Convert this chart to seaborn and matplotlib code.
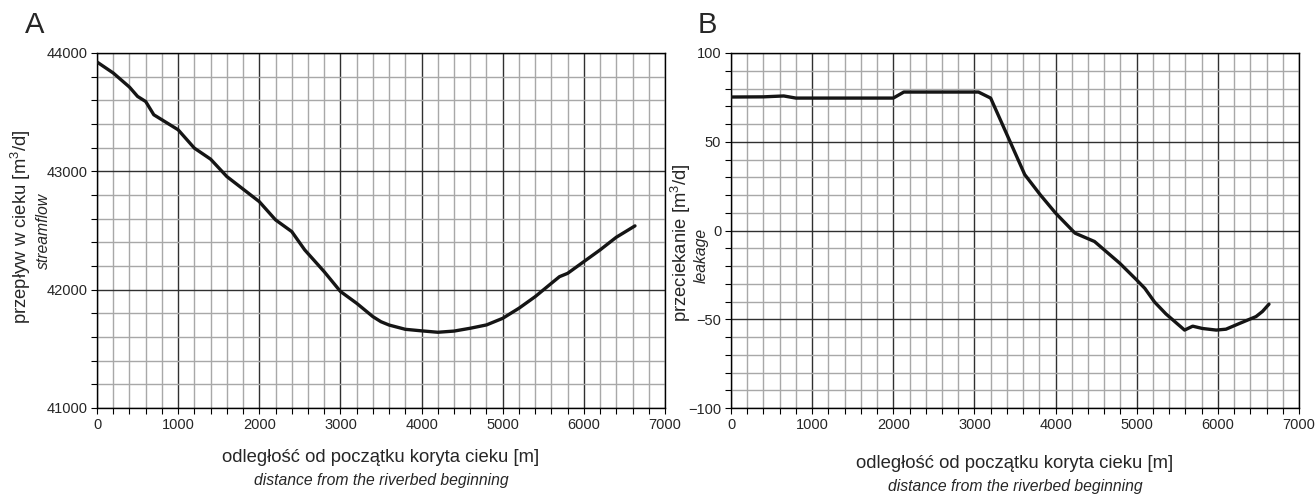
import numpy as np
import pandas as pd
import matplotlib
matplotlib.use("Agg")
import matplotlib.pyplot as plt
from matplotlib.ticker import MultipleLocator
import seaborn as sns

# --- data ---
dist_a = [0, 200, 400, 500, 600, 700, 1000, 1200, 1400, 1600, 2000, 2200, 2400,
          2560, 2800, 3000, 3200, 3400, 3500, 3600, 3800, 4000, 4200, 4400, 4600,
          4800, 5000, 5200, 5400, 5600, 5700, 5800, 6000, 6200, 6400, 6630]
flow_a = [43924, 43831, 43712, 43633, 43590, 43478, 43351, 43196, 43103, 42956,
          42744, 42590, 42491, 42336, 42152, 41985, 41885, 41772, 41729, 41701,
          41665, 41652, 41640, 41650, 41674, 41702, 41758, 41843, 41941, 42054,
          42110, 42138, 42237, 42336, 42443, 42539]

dist_b = [0, 400, 650, 800, 2000, 2130, 3050, 3200, 3440, 3620, 3810, 4000, 4240,
          4480, 4790, 5000, 5100, 5220, 5360, 5590, 5690, 5810, 5980, 6100, 6265,
          6470, 6550, 6630]
leak_b = [75.2, 75.3, 75.8, 74.6, 74.6, 78.0, 78.0, 74.6, 50.0, 31.5, 20.2, 9.8,
          -1.5, -6.2, -18.4, -27.9, -32.6, -40.3, -47.0, -56.1, -53.9, -55.2,
          -56.1, -55.6, -52.4, -48.5, -45.6, -41.5]

x_label = "odległość od początku koryta cieku [m]"
x_label_en = "distance from the riverbed beginning"

sns.set_theme(style="white")
plt.rcParams['font.family'] = ['Liberation Sans', 'DejaVu Sans']
plt.rcParams['mathtext.fontset'] = 'custom'
plt.rcParams['mathtext.rm'] = 'Liberation Sans'
plt.rcParams['mathtext.it'] = 'Liberation Sans:italic'

fig = plt.figure(figsize=(13.16, 4.95), dpi=100)
ax_a = fig.add_axes([97 / 1316, 87 / 495, 568 / 1316, 355 / 495])
ax_b = fig.add_axes([731 / 1316, 87 / 495, 568 / 1316, 355 / 495])

df_a = pd.DataFrame({'d': dist_a, 'q': flow_a})
df_b = pd.DataFrame({'d': dist_b, 'q': leak_b})


def style_axes(ax, ylim, ymaj, ymin):
    ax.set_xlim(0, 7000)
    ax.set_ylim(*ylim)
    ax.xaxis.set_major_locator(MultipleLocator(1000))
    ax.xaxis.set_minor_locator(MultipleLocator(200))
    ax.yaxis.set_major_locator(MultipleLocator(ymaj))
    ax.yaxis.set_minor_locator(MultipleLocator(ymin))
    ax.grid(True, which='minor', color='#a8a8a8', lw=1.0, zorder=0)
    ax.grid(True, which='major', color='#303030', lw=1.0, zorder=0)
    ax.set_axisbelow(True)
    ax.tick_params(axis='both', which='both', direction='out', length=4, width=0.8,
                   color='black', labelsize=10.5, pad=3, left=True, bottom=True)
    for s in ax.spines.values():
        s.set_color('black')
        s.set_linewidth(1.0)
    ax.set_xlabel("")
    ax.set_ylabel("")


sns.lineplot(data=df_a, x='d', y='q', ax=ax_a, color='#151515', lw=2.4, zorder=3)
sns.lineplot(data=df_b, x='d', y='q', ax=ax_b, color='#151515', lw=2.4, zorder=3)

style_axes(ax_a, (41000, 44000), 1000, 200)
style_axes(ax_b, (-100, 100), 50, 10)

# panel letters
fig.text(25 / 1316, 1 - 25 / 495, "A", fontsize=21, va='center', ha='left')
fig.text(698 / 1316, 1 - 25 / 495, "B", fontsize=21, va='center', ha='left')

# x labels
fig.text(381 / 1316, 1 - 457 / 495, x_label, fontsize=13.3, ha='center', va='center')
fig.text(381 / 1316, 1 - 480 / 495, x_label_en, fontsize=11.3, style='italic',
         ha='center', va='center')
fig.text(1015 / 1316, 1 - 463 / 495, x_label, fontsize=13.3, ha='center', va='center')
fig.text(1015 / 1316, 1 - 487 / 495, x_label_en, fontsize=11.3, style='italic',
         ha='center', va='center')

# y labels
fig.text(21 / 1316, 1 - 227 / 495, r"przepływ w cieku [m$^{3}$/d]", fontsize=13.3,
         rotation=90, ha='center', va='center')
fig.text(43 / 1316, 1 - 231 / 495, "streamflow", fontsize=11.3, style='italic',
         rotation=90, ha='center', va='center')
fig.text(681 / 1316, 1 - 243 / 495, r"przeciekanie [m$^{3}$/d]", fontsize=13.3,
         rotation=90, ha='center', va='center')
fig.text(701 / 1316, 1 - 255 / 495, "leakage", fontsize=11.3, style='italic',
         rotation=90, ha='center', va='center')

fig.savefig("out.png", dpi=100)
